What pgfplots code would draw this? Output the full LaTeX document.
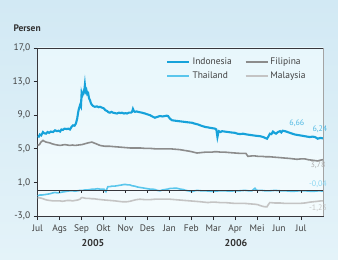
\documentclass[border=0pt]{standalone}
\usepackage{pgfplots}
\pgfplotsset{compat=1.18}
\usepackage{fontspec}
\setmainfont{PT Sans}
\definecolor{indo}{RGB}{22,162,218}
\definecolor{thai}{RGB}{90,198,236}
\definecolor{fili}{RGB}{140,140,140}
\definecolor{malay}{RGB}{196,196,196}
\definecolor{bgtop}{RGB}{210,233,244}
\definecolor{bgbot}{RGB}{228,243,249}
\definecolor{paltop}{RGB}{232,247,252}
\definecolor{palbot}{RGB}{244,251,253}
\definecolor{axc}{RGB}{55,55,60}
\definecolor{tickc}{RGB}{40,40,45}
\begin{document}
\begin{tikzpicture}
\shade[top color=bgtop, bottom color=bgbot] (-37.7bp,-44bp) rectangle (300.3bp,216bp);
\begin{axis}[
  name=ax,
  scale only axis, width=285.3bp, height=168bp,
  at={(0,0)}, anchor=south west,
  xmin=0, xmax=13, ymin=-3, ymax=17,
  axis background/.style={top color=paltop, bottom color=palbot},
  clip=false,
  xtick={0,...,12},
  xticklabels={Jul,Ags,Sep,Okt,Nov,Des,Jan,Feb,Mar,Apr,Mei,Jun,Jul},
  ytick={-3,1,5,9,13,17},
  yticklabel style={/pgf/number format/.cd, use comma, fixed, fixed zerofill, precision=1},
  /pgf/number format/assume math mode=true,
  tick label style={font=\fontsize{9.5}{10}\selectfont, text=black!75},
  xticklabel style={yshift=-1bp},
  tick align=outside, xtick pos=bottom, ytick pos=left,
  major tick length=4bp,
  tick style={color=tickc, line width=0.8pt},
  axis line style={color=axc, line width=0.9pt},
  legend columns=2,
  legend cell align=left,
  legend style={draw=none, fill=none, at={(0.44,0.965)}, anchor=north west,
    font=\fontsize{9.5}{10}\selectfont, text=black!75,
    /tikz/every even column/.append style={column sep=11bp},
    row sep=1.5bp},
  legend image code/.code={\draw[#1] (0bp,0bp) -- (22bp,0bp);},
]
\addplot[indo, line width=2.1pt] coordinates {
(0.00,6.5)(0.05,6.45)(0.10,6.7)(0.16,6.6)(0.24,7.0)(0.30,6.85)(0.38,6.8)(0.45,7.0)(0.52,6.9)(0.60,7.05)(0.70,7.0)(0.79,7.2)(0.88,7.1)(0.95,7.15)(1.02,7.05)(1.08,7.3)(1.15,7.25)(1.22,7.4)(1.33,7.35)(1.40,7.4)(1.47,7.3)(1.54,7.6)(1.61,7.8)(1.68,7.75)(1.74,8.0)(1.80,8.6)(1.84,9.3)(1.88,9.8)(1.93,10.2)(1.97,10.0)(2.00,11.6)(2.03,11.3)(2.06,11.5)(2.10,11.9)(2.13,12.1)(2.15,12.6)(2.18,11.8)(2.22,12.0)(2.26,11.5)(2.30,11.6)(2.34,11.0)(2.38,10.8)(2.43,10.4)(2.48,10.2)(2.52,10.1)(2.60,10.0)(2.70,10.05)(2.78,9.95)(2.84,10.0)(2.93,9.9)(3.02,9.8)(3.08,9.6)(3.16,9.5)(3.22,9.35)(3.29,9.3)(3.36,9.4)(3.43,9.3)(3.52,9.25)(3.61,9.2)(3.70,9.3)(3.78,9.25)(3.84,9.3)(3.93,9.2)(4.00,9.25)(4.07,9.2)(4.15,9.3)(4.25,9.3)(4.30,9.4)(4.34,9.75)(4.38,9.5)(4.43,9.4)(4.50,9.45)(4.57,9.4)(4.66,9.35)(4.75,9.3)(4.82,9.25)(4.89,9.2)(5.00,9.1)(5.12,9.0)(5.22,8.85)(5.34,8.7)(5.45,8.8)(5.57,8.9)(5.68,8.85)(5.80,8.9)(5.88,8.95)(5.94,8.9)(6.02,8.6)(6.12,8.4)(6.25,8.35)(6.39,8.3)(6.55,8.25)(6.71,8.2)(6.85,8.15)(7.03,8.1)(7.15,8.0)(7.30,7.9)(7.45,7.75)(7.63,7.6)(7.75,7.55)(7.85,7.5)(7.97,7.45)(8.08,7.4)(8.14,7.3)(8.19,6.4)(8.23,6.9)(8.26,7.1)(8.33,7.0)(8.40,7.1)(8.52,7.05)(8.67,7.0)(8.80,6.95)(8.99,6.9)(9.10,6.8)(9.22,6.75)(9.35,6.8)(9.54,6.7)(9.68,6.65)(9.81,6.6)(9.95,6.55)(10.13,6.5)(10.28,6.4)(10.40,6.25)(10.45,6.2)(10.52,6.5)(10.58,6.8)(10.65,6.75)(10.72,7.05)(10.79,6.9)(10.86,6.8)(10.95,7.0)(11.04,7.1)(11.10,6.95)(11.16,7.15)(11.27,7.1)(11.38,7.0)(11.49,6.9)(11.60,6.8)(11.72,6.7)(11.83,6.65)(11.95,6.6)(12.06,6.55)(12.17,6.5)(12.28,6.45)(12.40,6.4)(12.52,6.45)(12.63,6.4)(12.70,6.3)(12.76,6.2)(12.88,6.3)(13.00,6.24)};
\addlegendentry{Indonesia}
\addplot[fili, line width=1.6pt] coordinates {
(0.00,5.4)(0.08,5.5)(0.15,5.8)(0.24,6.0)(0.30,5.9)(0.38,5.8)(0.47,5.75)(0.56,5.7)(0.65,5.6)(0.79,5.5)(0.90,5.45)(1.02,5.4)(1.12,5.45)(1.24,5.5)(1.35,5.45)(1.47,5.4)(1.58,5.45)(1.70,5.4)(1.85,5.45)(2.02,5.5)(2.15,5.6)(2.29,5.7)(2.38,5.75)(2.47,5.8)(2.56,5.7)(2.66,5.6)(2.75,5.5)(2.84,5.4)(2.95,5.35)(3.07,5.3)(3.18,5.3)(3.29,5.3)(3.50,5.25)(3.75,5.2)(3.97,5.15)(4.20,5.1)(4.43,5.1)(4.66,5.1)(4.89,5.05)(5.12,5.05)(5.34,5.0)(5.57,5.0)(5.80,5.0)(6.03,5.0)(6.25,4.95)(6.48,4.9)(6.70,4.8)(6.94,4.7)(7.10,4.6)(7.26,4.5)(7.45,4.55)(7.63,4.6)(7.80,4.6)(7.94,4.6)(8.05,4.65)(8.17,4.65)(8.35,4.6)(8.53,4.6)(8.75,4.55)(8.99,4.5)(9.25,4.45)(9.49,4.45)(9.54,4.25)(9.58,4.1)(9.75,4.15)(9.90,4.15)(10.05,4.1)(10.22,4.1)(10.40,4.05)(10.58,4.05)(10.80,4.0)(11.04,3.95)(11.25,3.9)(11.49,3.85)(11.65,3.8)(11.81,3.75)(12.00,3.8)(12.17,3.8)(12.33,3.7)(12.49,3.65)(12.63,3.6)(12.76,3.55)(12.88,3.65)(13.00,3.7)};
\addlegendentry{Filipina}
\addplot[thai, line width=1.6pt] coordinates {
(0.00,-0.6)(0.10,-0.5)(0.20,-0.5)(0.33,-0.45)(0.45,-0.4)(0.56,-0.35)(0.68,-0.25)(0.79,-0.2)(0.90,-0.25)(1.02,-0.2)(1.12,-0.15)(1.24,-0.1)(1.35,-0.05)(1.47,0.0)(1.58,0.0)(1.70,-0.05)(1.82,0.0)(1.93,0.05)(2.05,0.05)(2.15,0.1)(2.27,0.1)(2.38,0.15)(2.50,0.2)(2.61,0.2)(2.72,0.25)(2.84,0.2)(2.93,0.2)(3.02,0.2)(3.07,0.0)(3.11,-0.1)(3.15,0.2)(3.20,0.5)(3.29,0.5)(3.38,0.55)(3.50,0.55)(3.61,0.6)(3.72,0.65)(3.84,0.7)(3.93,0.75)(4.02,0.75)(4.10,0.7)(4.20,0.7)(4.30,0.6)(4.43,0.55)(4.55,0.45)(4.66,0.4)(4.78,0.35)(4.89,0.3)(5.00,0.25)(5.12,0.2)(5.23,0.2)(5.34,0.15)(5.45,0.05)(5.57,0.0)(5.68,0.1)(5.80,0.15)(5.92,0.2)(6.03,0.28)(6.20,0.3)(6.35,0.3)(6.50,0.2)(6.63,0.15)(6.75,0.05)(6.85,0.0)(6.95,-0.05)(7.03,-0.1)(7.15,0.0)(7.26,0.05)(7.45,0.0)(7.63,0.0)(7.85,-0.05)(8.08,-0.05)(8.30,0.0)(8.53,0.0)(8.75,-0.05)(8.99,0.0)(9.20,0.0)(9.44,0.05)(9.60,0.0)(9.76,0.0)(9.83,0.15)(9.90,0.3)(9.96,0.1)(10.03,0.05)(10.20,0.05)(10.36,0.0)(10.60,0.0)(10.81,0.05)(11.05,0.0)(11.27,0.0)(11.50,-0.05)(11.72,-0.05)(11.95,0.0)(12.17,0.0)(12.40,-0.05)(12.63,-0.05)(12.82,0.0)(13.00,-0.04)};
\addlegendentry{Thailand}
\addplot[malay, line width=1.6pt] coordinates {
(0.00,-0.85)(0.10,-0.85)(0.20,-0.9)(0.30,-1.0)(0.42,-1.1)(0.55,-1.15)(0.70,-1.2)(0.85,-1.2)(1.02,-1.2)(1.12,-1.25)(1.24,-1.2)(1.35,-1.15)(1.47,-1.15)(1.58,-1.2)(1.70,-1.15)(1.82,-1.1)(1.93,-1.0)(1.98,-0.85)(2.02,-0.8)(2.10,-0.85)(2.20,-0.9)(2.33,-0.9)(2.47,-0.95)(2.58,-0.95)(2.70,-1.0)(2.88,-1.05)(3.07,-1.1)(3.30,-1.15)(3.52,-1.2)(3.68,-1.25)(3.84,-1.3)(3.95,-1.3)(4.07,-1.3)(4.20,-1.25)(4.34,-1.15)(4.50,-1.05)(4.66,-1.0)(4.89,-1.05)(5.12,-1.05)(5.34,-1.0)(5.57,-1.0)(5.80,-1.0)(6.03,-1.0)(6.25,-1.05)(6.48,-1.1)(6.70,-1.15)(6.94,-1.2)(7.17,-1.25)(7.40,-1.3)(7.58,-1.35)(7.76,-1.4)(7.92,-1.35)(8.08,-1.35)(8.30,-1.4)(8.53,-1.4)(8.75,-1.45)(8.99,-1.5)(9.20,-1.5)(9.44,-1.5)(9.65,-1.55)(9.90,-1.6)(10.03,-1.65)(10.13,-1.75)(10.25,-1.85)(10.36,-1.9)(10.45,-1.9)(10.52,-1.6)(10.58,-1.4)(10.80,-1.45)(11.04,-1.45)(11.27,-1.5)(11.49,-1.5)(11.72,-1.5)(11.95,-1.5)(12.17,-1.45)(12.40,-1.35)(12.58,-1.3)(12.76,-1.25)(12.90,-1.2)(13.00,-1.2)};
\addlegendentry{Malaysia}
% zero line with small ticks
\draw[axc, line width=0.9pt] (axis cs:0,0) -- (axis cs:13,0);
\pgfplotsinvokeforeach{1,...,12}{\draw[tickc, line width=0.8pt] (axis cs:#1,0) -- ++(0bp,-2.5bp);}
\draw[fili!80, line width=0.9pt] (rel axis cs:1,0) -- (rel axis cs:1,1);
% end-value labels
\node[font=\fontsize{8}{9}\selectfont, text=indo!75] at (axis cs:11.81,8.0) {6,66};
\node[font=\fontsize{8}{9}\selectfont, text=indo!75] at (axis cs:12.86,7.35) {6,24};
\node[font=\fontsize{8}{9}\selectfont, text=fili!70] at (axis cs:12.77,3.06) {3,78};
\node[font=\fontsize{8}{9}\selectfont, text=thai!70] at (axis cs:12.77,0.8) {-0,04};
\node[font=\fontsize{8}{9}\selectfont, text=malay] at (axis cs:12.77,-2.1) {-1,23};
\end{axis}
\node[anchor=west, font=\bfseries\fontsize{9.5}{10}\selectfont, text=black!80] at ([shift={(-27.7bp,20bp)}]ax.north west) {Persen};
\node[font=\bfseries\fontsize{10}{11}\selectfont, text=black!80] at ([shift={(55.3bp,-27bp)}]ax.south west) {2005};
\node[font=\bfseries\fontsize{10}{11}\selectfont, text=black!80] at ([shift={(198.3bp,-27bp)}]ax.south west) {2006};
\end{tikzpicture}
\end{document}
